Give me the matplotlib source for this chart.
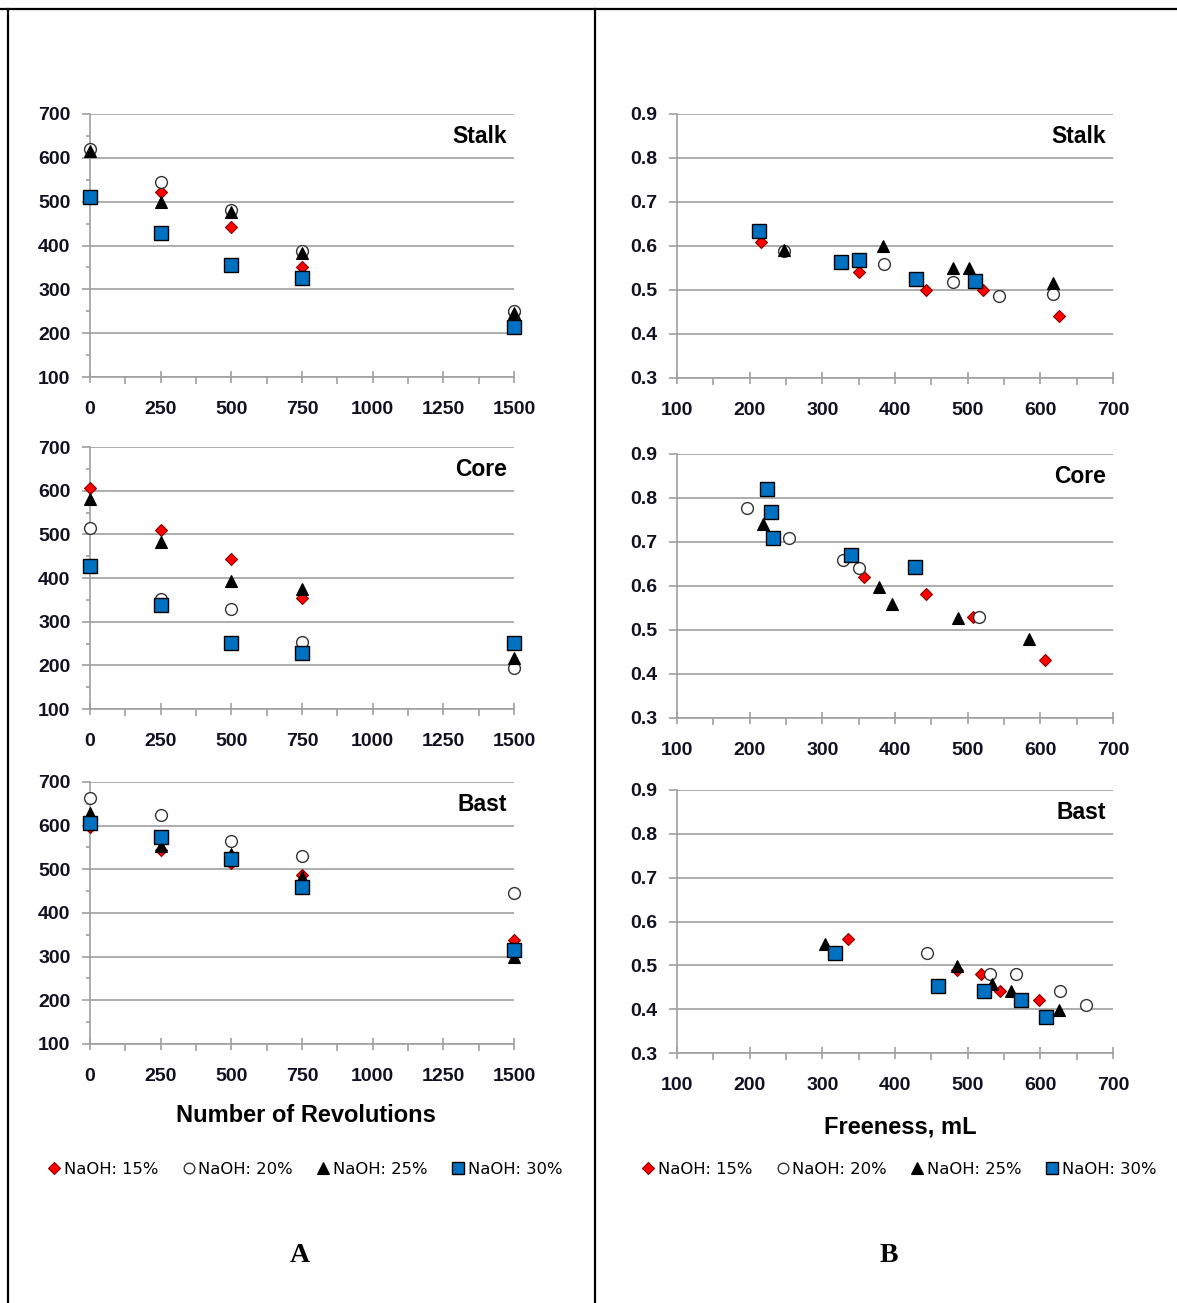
import numpy as np
import matplotlib.pyplot as plt
from matplotlib.lines import Line2D
from matplotlib.ticker import MultipleLocator

# ---- data: left column (vs number of revolutions) ----
rev = [0, 250, 500, 750, 1500]
stalk_15 = [620, 521, 443, 352, 245]
stalk_20 = [620, 545, 481, 387, 251]
stalk_25 = [615, 500, 477, 384, 246]
stalk_30 = [510, 429, 355, 325, 213]

core_rev15 = [0, 250, 500, 750]
core_15 = [606, 511, 443, 355]
core_20 = [515, 351, 328, 254, 193]
core_25 = [582, 483, 393, 374, 216]
core_30 = [427, 339, 251, 229, 251]

bast_15 = [597, 544, 515, 487, 338]
bast_20 = [663, 625, 564, 530, 445]
bast_25 = [629, 553, 535, 483, 300]
bast_30 = [607, 573, 523, 459, 315]

# ---- data: right column (vs freeness) ----
stalk_fr15 = [216, 350, 442, 521, 626]
stalk_b15 = [0.610, 0.540, 0.500, 0.500, 0.441]
stalk_fr20 = [247, 385, 480, 543, 618]
stalk_b20 = [0.589, 0.560, 0.519, 0.487, 0.490]
stalk_fr25 = [247, 384, 480, 502, 618]
stalk_b25 = [0.590, 0.599, 0.549, 0.549, 0.516]
stalk_fr30 = [213, 325, 351, 429, 510]
stalk_b30 = [0.635, 0.564, 0.568, 0.526, 0.520]

core_fr15 = [357, 443, 508, 606]
core_b15 = [0.621, 0.581, 0.529, 0.431]
core_fr20 = [196, 254, 328, 350, 516]
core_b20 = [0.778, 0.708, 0.659, 0.642, 0.529]
core_fr25 = [219, 378, 396, 487, 585]
core_b25 = [0.741, 0.598, 0.560, 0.528, 0.479]
core_fr30 = [224, 230, 232, 339, 428]
core_b30 = [0.821, 0.769, 0.708, 0.671, 0.643]

bast_fr15 = [335, 485, 519, 545, 598]
bast_b15 = [0.559, 0.490, 0.480, 0.441, 0.420]
bast_fr20 = [444, 531, 566, 627, 663]
bast_b20 = [0.529, 0.480, 0.480, 0.441, 0.409]
bast_fr25 = [303, 485, 534, 559, 626]
bast_b25 = [0.548, 0.499, 0.458, 0.441, 0.399]
bast_fr30 = [317, 459, 522, 573, 608]
bast_b30 = [0.529, 0.452, 0.442, 0.420, 0.382]

labels = ["NaOH: 15%", "NaOH: 20%", "NaOH: 25%", "NaOH: 30%"]
styles = [
    dict(marker="D", ms=6.5, mfc="#FF0000", mec="#8B0000", mew=0.8),
    dict(marker="o", ms=8.5, mfc="white", mec="#333333", mew=1.0),
    dict(marker="^", ms=9, mfc="black", mec="black", mew=0.8),
    dict(marker="s", ms=9.5, mfc="#0070C0", mec="black", mew=1.0),
]

grid_c = "#A0A0A0"
W, H = 1177, 1303

fig = plt.figure(figsize=(W / 100, H / 100), dpi=100)
plt.rcParams["font.family"] = ["Liberation Sans", "DejaVu Sans"]


def box(l, r, t, b):
    return [l / W, 1 - b / H, (r - l) / W, (b - t) / H]


def style_ax(ax, xlim, xmaj, xmin, ylim, ymaj, ymin):
    ax.set_xlim(*xlim)
    ax.set_ylim(*ylim)
    ax.xaxis.set_major_locator(MultipleLocator(xmaj))
    ax.xaxis.set_minor_locator(MultipleLocator(xmin))
    ax.yaxis.set_major_locator(MultipleLocator(ymaj))
    if ymin:
        ax.yaxis.set_minor_locator(MultipleLocator(ymin))
    for s in ["top", "right"]:
        ax.spines[s].set_visible(False)
    for s in ["left", "bottom"]:
        ax.spines[s].set_color(grid_c)
        ax.spines[s].set_linewidth(1.2)
    ax.grid(axis="y", color=grid_c, linewidth=1.2)
    ax.set_axisbelow(True)
    ax.tick_params(which="major", axis="x", direction="inout", length=9, color=grid_c, width=1.2,
                   labelsize=14, pad=13)
    ax.tick_params(which="minor", axis="x", direction="out", length=5, color=grid_c, width=1.2)
    ax.tick_params(which="major", axis="y", direction="out", length=6, color=grid_c, width=1.2,
                   labelsize=14, pad=8)
    ax.tick_params(which="minor", axis="y", direction="out", length=3, color=grid_c, width=1.2)


def draw(ax, xs, ys, name):
    for x, y, st in zip(xs, ys, styles):
        ax.plot(x, y, ls="none", clip_on=False, zorder=3, **st)
    ax.text(0.983, 0.916, name, transform=ax.transAxes, ha="right", va="center",
            fontsize=16.5, fontweight="bold")


def bold_labels(ax):
    for t in ax.get_xticklabels() + ax.get_yticklabels():
        t.set_fontweight("bold")
        t.set_color("#111122")


# left column
a1 = fig.add_axes(box(90, 514, 114, 377))
a2 = fig.add_axes(box(90, 514, 447, 709))
a3 = fig.add_axes(box(90, 514, 782, 1044))
draw(a1, [rev] * 4, [stalk_15, stalk_20, stalk_25, stalk_30], "Stalk")
draw(a2, [core_rev15, rev, rev, rev], [core_15, core_20, core_25, core_30], "Core")
draw(a3, [rev] * 4, [bast_15, bast_20, bast_25, bast_30], "Bast")
for ax in (a1, a2, a3):
    style_ax(ax, (0, 1500), 250, 125, (100, 700), 100, 50)
    bold_labels(ax)

# right column
b1 = fig.add_axes(box(677, 1113, 114, 378))
b2 = fig.add_axes(box(677, 1113, 454, 718))
b3 = fig.add_axes(box(677, 1113, 790, 1053))
draw(b1, [stalk_fr15, stalk_fr20, stalk_fr25, stalk_fr30],
     [stalk_b15, stalk_b20, stalk_b25, stalk_b30], "Stalk")
draw(b2, [core_fr15, core_fr20, core_fr25, core_fr30],
     [core_b15, core_b20, core_b25, core_b30], "Core")
draw(b3, [bast_fr15, bast_fr20, bast_fr25, bast_fr30],
     [bast_b15, bast_b20, bast_b25, bast_b30], "Bast")
for ax in (b1, b2, b3):
    style_ax(ax, (100, 700), 100, 50, (0.3, 0.9), 0.1, None)
    ax.yaxis.set_major_formatter(plt.FuncFormatter(lambda v, p: f"{v:.1f}"))
    bold_labels(ax)

fig.text(306 / W, 1 - 1116 / H, "Number of Revolutions", ha="center", va="center",
         fontsize=17, fontweight="bold")
fig.text(900 / W, 1 - 1127 / H, "Freeness, mL", ha="center", va="center",
         fontsize=17, fontweight="bold")

# legends
handles = [Line2D([], [], ls="none", **dict(st, ms=st["ms"] * 0.9)) for st in styles]
for cx in (305, 899):
    fig.legend(handles, labels, loc="center", bbox_to_anchor=(cx / W, 1 - 1169 / H),
               ncol=4, frameon=False, handlelength=0.8, handletextpad=0.2,
               columnspacing=1.45, prop={"family": "DejaVu Sans", "size": 11.8})

# panel letters
fig.text(300 / W, 1 - 1256 / H, "A", ha="center", va="center", fontsize=20,
         fontweight="bold", family="Liberation Serif")
fig.text(889 / W, 1 - 1256 / H, "B", ha="center", va="center", fontsize=20,
         fontweight="bold", family="Liberation Serif")

# frame lines
fig.add_artist(Line2D([0, 1], [1 - 8.5 / H] * 2, color="black", lw=1.6))
fig.add_artist(Line2D([7.5 / W] * 2, [0, 1 - 8.5 / H], color="black", lw=1.6))
fig.add_artist(Line2D([595 / W] * 2, [0, 1 - 8.5 / H], color="black", lw=1.6))

fig.savefig("out.png", dpi=100)
